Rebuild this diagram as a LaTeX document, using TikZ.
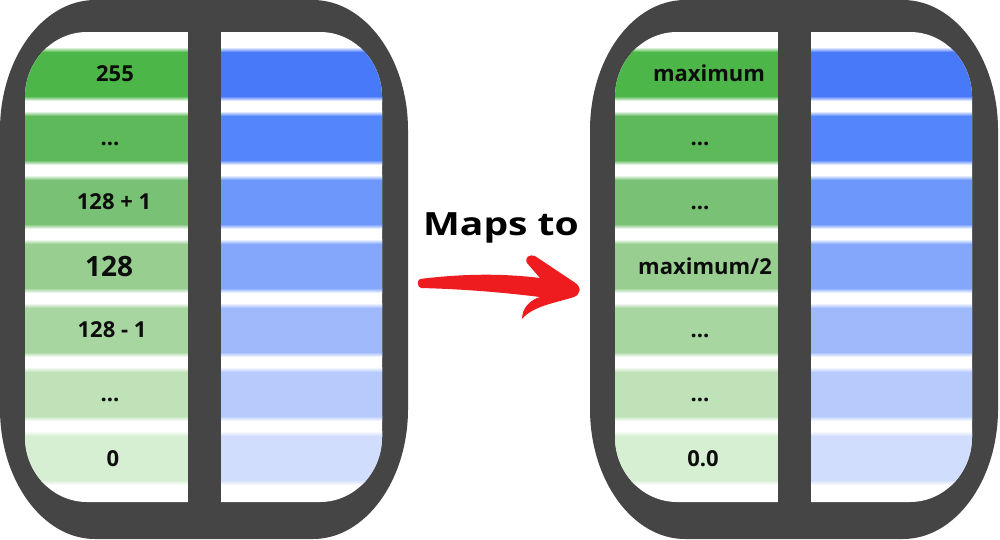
\documentclass[tikz,border=0pt]{standalone}
\usepackage{fontspec}
\setsansfont{Open Sans}
\definecolor{frame}{HTML}{454545}
\definecolor{arrowred}{HTML}{EE1B1F}
\definecolor{g1}{HTML}{4CB748}
\definecolor{g2}{HTML}{5DB95A}
\definecolor{g3}{HTML}{79C275}
\definecolor{g4}{HTML}{99CE91}
\definecolor{g5}{HTML}{A8D6A1}
\definecolor{g6}{HTML}{BFE2B8}
\definecolor{g7}{HTML}{D6EED2}
\definecolor{b1}{HTML}{4779F9}
\definecolor{b2}{HTML}{5585FA}
\definecolor{b3}{HTML}{6D97FB}
\definecolor{b4}{HTML}{84A7FB}
\definecolor{b5}{HTML}{9FB9FB}
\definecolor{b6}{HTML}{B6CAFC}
\definecolor{b7}{HTML}{D1DDFC}
% rounded box: left, top, right, bottom, x radius, y radius
\newcommand{\roundbox}[6]{({#1+#5},#2) -- ({#3-#5},#2)
  .. controls ({#3-0.45*#5},#2) and (#3,{#2+0.45*#6}) .. (#3,{#2+#6})
  -- (#3,{#4-#6})
  .. controls (#3,{#4-0.45*#6}) and ({#3-0.45*#5},#4) .. ({#3-#5},#4)
  -- ({#1+#5},#4)
  .. controls ({#1+0.45*#5},#4) and (#1,{#4-0.45*#6}) .. (#1,{#4-#6})
  -- (#1,{#2+#6})
  .. controls (#1,{#2+0.45*#6}) and ({#1+0.45*#5},#2) .. ({#1+#5},#2) -- cycle}
\begin{document}
\begin{tikzpicture}[x=1pt, y=-1pt,
    lbl/.style={font=\sffamily\bfseries\fontsize{22}{25}\selectfont, anchor=base, text=black!95},
    biglbl/.style={lbl, font=\sffamily\bfseries\fontsize{28}{31}\selectfont}]
  \useasboundingbox (0,0) rectangle (1000,539);

  % Two panels with frame, bands and divider
  \foreach \px in {0,590} {
    \fill[frame] \roundbox{\px}{0}{\px+408}{539}{95}{130};
    \fill[white] \roundbox{\px+25}{32}{\px+382}{502}{62}{65};
    \begin{scope}
      \clip \roundbox{\px+25}{32}{\px+382}{502}{62}{65};
      \foreach \g/\b [count=\i from 0] in {g1/b1,g2/b2,g3/b3,g4/b4,g5/b5,g6/b6,g7/b7} {
        \fill[\g] (\px,{47+64*\i}) rectangle (\px+188,{101+64*\i});
        \fill[\b] (\px+221,{47+64*\i}) rectangle (\px+408,{101+64*\i});
        \shade[top color=white, bottom color=\g] (\px,{47+64*\i}) rectangle (\px+188,{52+64*\i});
        \shade[top color=\g, bottom color=white] (\px,{96+64*\i}) rectangle (\px+188,{101+64*\i});
        \shade[top color=white, bottom color=\b] (\px+221,{47+64*\i}) rectangle (\px+408,{52+64*\i});
        \shade[top color=\b, bottom color=white] (\px+221,{96+64*\i}) rectangle (\px+408,{101+64*\i});
      }
    \end{scope}
    \fill[frame] (\px+188,20) rectangle (\px+221,520);
  }

  % Left labels
  \node[lbl] (l1) at (115,81) {255};
  \node[lbl] (l2) at (110,145) {...};
  \node[lbl] (l3) at (114,209) {128 + 1};
  \node[biglbl] (l4) at (109,276) {128};
  \node[lbl] (l5) at (112,337) {128 - 1};
  \node[lbl] (l6) at (110,401) {...};
  \node[lbl] (l7) at (113,466) {0};

  % Right labels
  \node[lbl] (r1) at (709,81) {maximum};
  \node[lbl] (r2) at (700,145) {...};
  \node[lbl] (r3) at (700,209) {...};
  \node[lbl] (r4) at (705,274) {maximum/2};
  \node[lbl] (r5) at (700,337) {...};
  \node[lbl] (r6) at (700,401) {...};
  \node[lbl] (r7) at (703,466) {0.0};

  % Caption and brush arrow
  \node[font=\sffamily\bfseries\fontsize{32}{36}\selectfont, anchor=base] (maps) at (501,235) {\scalebox{1.22}[1]{Maps to}};
  \fill[arrowred] (420,279) .. controls (460,274) and (500,273) .. (540,278)
    -- (527,263) .. controls (524,257) and (530,254) .. (535,256)
    -- (574,282) .. controls (582,287) and (581,294) .. (574,297)
    .. controls (555,303) and (533,306) .. (522,319)
    .. controls (522,308) and (530,300) .. (540,297)
    .. controls (500,292) and (460,289) .. (421,288)
    .. controls (417,287) and (417,280) .. (420,279) -- cycle;
\end{tikzpicture}
\end{document}
